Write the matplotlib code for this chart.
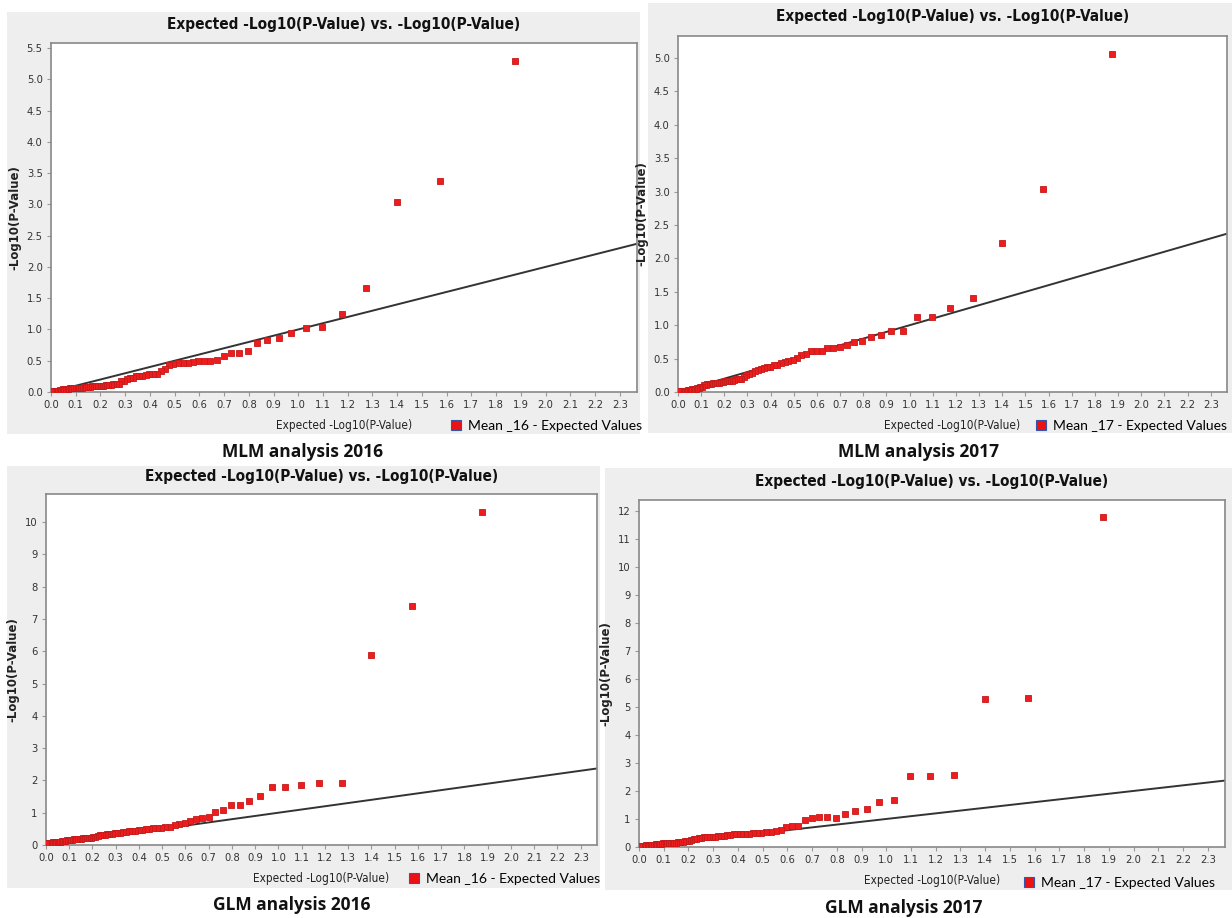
import matplotlib
matplotlib.use("Agg")
import matplotlib.pyplot as plt
from matplotlib.patches import Rectangle
from matplotlib.lines import Line2D

# expected -log10(p) (same 75 ranks in every panel)
x_expected = [1.875, 1.574, 1.398, 1.273, 1.176, 1.097, 1.030, 0.972, 0.921, 0.875,
              0.834, 0.796, 0.761, 0.729, 0.699, 0.671, 0.645, 0.620, 0.596, 0.574,
              0.553, 0.533, 0.513, 0.495, 0.477, 0.460, 0.444, 0.428, 0.413, 0.398,
              0.384, 0.370, 0.357, 0.344, 0.331, 0.319, 0.307, 0.295, 0.284, 0.273,
              0.262, 0.252, 0.242, 0.232, 0.222, 0.212, 0.203, 0.194, 0.185, 0.176,
              0.167, 0.159, 0.151, 0.143, 0.135, 0.127, 0.119, 0.112, 0.104, 0.097,
              0.090, 0.083, 0.076, 0.069, 0.062, 0.056, 0.049, 0.043, 0.036, 0.030,
              0.024, 0.018, 0.012, 0.006, 0.000]

y_mlm_2016 = [5.30, 3.37, 3.03, 1.67, 1.24, 1.04, 1.02, 0.94, 0.87, 0.83,
              0.78, 0.66, 0.63, 0.62, 0.57, 0.51, 0.50, 0.50, 0.49, 0.48,
              0.47, 0.47, 0.46, 0.45, 0.43, 0.36, 0.34, 0.29, 0.28, 0.28,
              0.27, 0.26, 0.25, 0.25, 0.23, 0.22, 0.20, 0.18, 0.17, 0.13,
              0.12, 0.12, 0.11, 0.11, 0.11, 0.10, 0.10, 0.10, 0.09, 0.09,
              0.09, 0.08, 0.08, 0.08, 0.08, 0.07, 0.07, 0.07, 0.07, 0.06,
              0.06, 0.06, 0.06, 0.05, 0.05, 0.05, 0.04, 0.03, 0.03, 0.02,
              0.02, 0.01, 0.01, 0.01, 0.01]

y_mlm_2017 = [5.06, 3.04, 2.23, 1.40, 1.26, 1.13, 1.13, 0.92, 0.92, 0.85,
              0.82, 0.76, 0.75, 0.70, 0.68, 0.66, 0.66, 0.62, 0.61, 0.61,
              0.57, 0.55, 0.51, 0.48, 0.47, 0.45, 0.43, 0.41, 0.40, 0.38,
              0.37, 0.36, 0.34, 0.33, 0.31, 0.29, 0.27, 0.25, 0.22, 0.20,
              0.19, 0.19, 0.18, 0.17, 0.17, 0.16, 0.16, 0.15, 0.15, 0.14,
              0.13, 0.13, 0.13, 0.12, 0.12, 0.12, 0.11, 0.11, 0.07, 0.07,
              0.06, 0.06, 0.05, 0.04, 0.04, 0.03, 0.03, 0.03, 0.02, 0.02,
              0.02, 0.02, 0.02, 0.01, 0.01]

y_glm_2016 = [10.31, 7.41, 5.87, 1.91, 1.91, 1.86, 1.79, 1.79, 1.53, 1.35,
              1.24, 1.24, 1.08, 1.01, 0.86, 0.83, 0.81, 0.74, 0.67, 0.64,
              0.63, 0.57, 0.55, 0.54, 0.53, 0.52, 0.51, 0.50, 0.48, 0.46,
              0.44, 0.43, 0.42, 0.41, 0.39, 0.38, 0.37, 0.36, 0.35, 0.34,
              0.33, 0.32, 0.31, 0.30, 0.28, 0.26, 0.24, 0.23, 0.22, 0.22,
              0.21, 0.21, 0.20, 0.20, 0.19, 0.19, 0.18, 0.17, 0.16, 0.15,
              0.14, 0.13, 0.12, 0.11, 0.10, 0.10, 0.09, 0.09, 0.08, 0.08,
              0.07, 0.07, 0.06, 0.06, 0.05]

y_glm_2017 = [11.76, 5.33, 5.27, 2.57, 2.52, 2.52, 1.67, 1.60, 1.35, 1.29,
              1.19, 1.05, 1.07, 1.06, 1.05, 0.95, 0.75, 0.75, 0.71, 0.62,
              0.57, 0.55, 0.52, 0.51, 0.50, 0.49, 0.48, 0.47, 0.46, 0.45,
              0.45, 0.44, 0.43, 0.41, 0.39, 0.38, 0.37, 0.37, 0.36, 0.35,
              0.34, 0.33, 0.32, 0.30, 0.27, 0.24, 0.22, 0.21, 0.20, 0.19,
              0.18, 0.17, 0.16, 0.16, 0.15, 0.15, 0.14, 0.14, 0.13, 0.13,
              0.12, 0.11, 0.10, 0.09, 0.08, 0.08, 0.07, 0.07, 0.06, 0.06,
              0.05, 0.05, 0.04, 0.04, 0.03]

captions = ["MLM analysis 2016", "MLM analysis 2017", "GLM analysis 2016", "GLM analysis 2017"]
legend_labels = ["Mean _16 - Expected Values", "Mean _17 - Expected Values",
                 "Mean _16 - Expected Values", "Mean _17 - Expected Values"]
y_ticks_mlm_2016 = [0.0, 0.5, 1.0, 1.5, 2.0, 2.5, 3.0, 3.5, 4.0, 4.5, 5.0, 5.5]
y_ticks_mlm_2017 = [0.0, 0.5, 1.0, 1.5, 2.0, 2.5, 3.0, 3.5, 4.0, 4.5, 5.0]
y_ticks_glm_2016 = list(range(0, 11))
y_ticks_glm_2017 = list(range(0, 13))
x_ticks = [i / 10 for i in range(24)]

title_text = "Expected -Log10(P-Value) vs. -Log10(P-Value)"

W, H = 1232, 918
SANS = ["Lato", "DejaVu Sans"]
BOLD = ["Open Sans", "DejaVu Sans"]


def frac(l, t, r, b):
    return [l / W, 1 - b / H, (r - l) / W, (b - t) / H]


fig = plt.figure(figsize=(W / 100, H / 100), dpi=100)
fig.patch.set_facecolor("white")

# layout per panel: gray frame, axes box, title y, legend pos, caption pos, y-limit
layout = [
    dict(frame=(7, 12, 640, 434), ax=(51, 43, 637, 392), ty=25, lx=449, ly=426, cx=302, cy=452, ymax=5.58, fmt="%.1f"),
    dict(frame=(648, 3, 1232, 433), ax=(678, 36, 1227, 392), ty=17, lx=1034, ly=426, cx=919, cy=452, ymax=5.33, fmt="%.1f"),
    dict(frame=(7, 466, 600, 888), ax=(46, 494, 597, 845), ty=476, lx=407, ly=879, cx=292, cy=905, ymax=10.87, fmt="%d"),
    dict(frame=(605, 468, 1232, 890), ax=(639, 500, 1225, 847), ty=482, lx=1022, ly=883, cx=904, cy=908, ymax=12.38, fmt="%d"),
]
series = [y_mlm_2016, y_mlm_2017, y_glm_2016, y_glm_2017]
yticks = [y_ticks_mlm_2016, y_ticks_mlm_2017, y_ticks_glm_2016, y_ticks_glm_2017]

for k in range(4):
    L = layout[k]
    fl, ft, fr, fb = L["frame"]
    fig.patches.append(Rectangle((fl / W, 1 - fb / H), (fr - fl) / W, (fb - ft) / H,
                                 transform=fig.transFigure, facecolor="#eeeeee",
                                 edgecolor="none", zorder=-5))

    ax = fig.add_axes(frac(*L["ax"]))
    ax.set_facecolor("white")
    xmax = 2.37
    ax.set_xlim(0, xmax)
    ax.set_ylim(0, L["ymax"])

    ax.plot([0, xmax], [0, xmax], color="#333333", linewidth=1.4, zorder=2)
    ax.plot(x_expected, series[k], linestyle="none", marker="s", markersize=5,
            markerfacecolor="#ee1c1c", markeredgecolor="#c41a1a", markeredgewidth=0.6, zorder=3)

    ax.set_xticks(x_ticks)
    ax.set_xticklabels(["%.1f" % v for v in x_ticks], fontstretch="condensed", fontsize=8, color="#333333")
    ax.set_yticks(yticks[k])
    ax.set_yticklabels([L["fmt"] % v for v in yticks[k]], fontstretch="condensed", fontsize=8, color="#333333")
    ax.tick_params(direction="out", length=3, color="#999999", pad=3)
    for s in ax.spines.values():
        s.set_color("#888888")
        s.set_linewidth(1.2)

    ax.set_xlabel("Expected -Log10(P-Value)", fontstretch="condensed", fontsize=8.5, color="#222222", labelpad=6)
    ax.set_ylabel("-Log10(P-Value)", fontsize=8.5, fontweight="bold", color="#222222", labelpad=4)

    al, at, ar, ab = L["ax"]
    fig.text((al + ar) / 2 / W, 1 - L["ty"] / H, title_text, fontstretch="condensed", fontweight="bold",
             fontsize=11, ha="center", va="center", color="#111111")

    handle = Line2D([], [], linestyle="none", marker="s", markersize=7.5,
                    markerfacecolor="#ee1111", markeredgecolor="#3355aa", markeredgewidth=0.8)
    ax.legend([handle], [legend_labels[k]], loc="center left",
              bbox_to_anchor=(L["lx"] / W, 1 - L["ly"] / H), bbox_transform=fig.transFigure,
              frameon=False, prop=dict(family=SANS, size=10),
              handletextpad=0.4, borderpad=0, borderaxespad=0, handlelength=1.0)

    fig.text(L["cx"] / W, 1 - L["cy"] / H, captions[k], family=BOLD,
             fontweight="bold", fontsize=12.5, ha="center", va="center", color="#111111")

fig.savefig("out.png", dpi=100, facecolor="white")
